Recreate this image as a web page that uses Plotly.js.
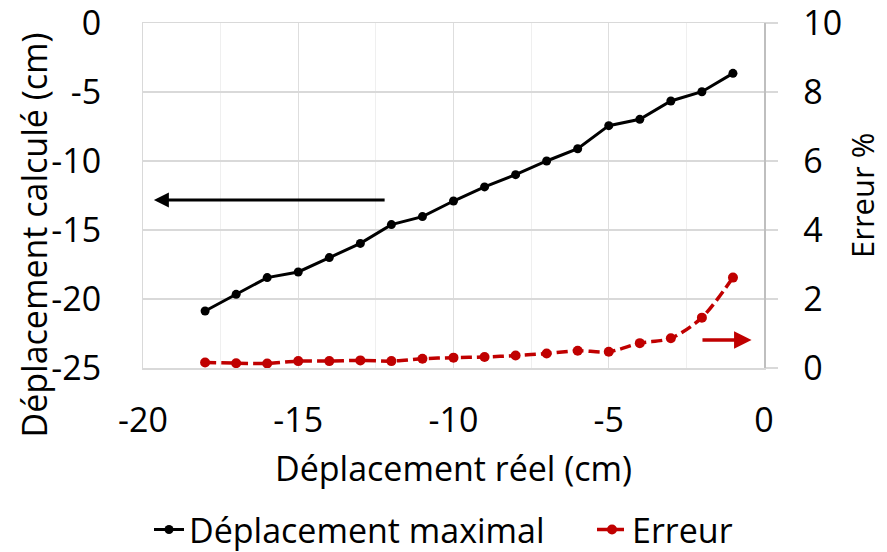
<!DOCTYPE html>
<html>
<head>
<meta charset="utf-8">
<script src="https://cdn.plot.ly/plotly-3.0.1.min.js"></script>
<style>html,body{margin:0;padding:0;background:#fff;}#chart{width:887px;height:552px;}</style>
</head>
<body>
<div id="chart"></div>
<script>
const deplacementReel = [-18,-17,-16,-15,-14,-13,-12,-11,-10,-9,-8,-7,-6,-5,-4,-3,-2,-1];
const deplacementMaximal = [-20.87,-19.66,-18.45,-18.04,-17.0,-15.97,-14.61,-14.03,-12.9,-11.88,-10.99,-10.0,-9.11,-7.44,-6.98,-5.65,-4.98,-3.65];
const erreur = [0.16,0.14,0.13,0.20,0.20,0.22,0.20,0.27,0.30,0.32,0.36,0.42,0.50,0.47,0.72,0.86,1.46,2.62];
const xTicks = [-20,-15,-10,-5,0];
const yTicks = [-25,-20,-15,-10,-5,0];
const y2Ticks = [0,2,4,6,8,10];

const FONT = '"Open Sans", "Noto Sans", sans-serif';
const FS = 34;

const traces = [
  {
    x: deplacementReel, y: deplacementMaximal, name: 'Déplacement maximal',
    type: 'scatter', mode: 'lines+markers', yaxis: 'y', legend: 'legend',
    line: {color: '#000000', width: 3},
    marker: {color: '#000000', size: 9}
  },
  {
    x: deplacementReel, y: erreur, name: 'Erreur',
    type: 'scatter', mode: 'lines+markers', yaxis: 'y2', legend: 'legend2',
    line: {color: '#c00000', width: 3.5, dash: '11px,5px', shape: 'spline', smoothing: 0.8},
    marker: {color: '#c00000', size: 10}
  }
];

const legendBase = {
  orientation: 'h', xref: 'container', yref: 'container',
  xanchor: 'left', y: 0.04, yanchor: 'middle',
  font: {family: FONT, size: FS, color: '#000000'},
  itemwidth: 30, bgcolor: 'rgba(0,0,0,0)'
};

const layout = {
  width: 887, height: 552,
  margin: {l: 143, r: 123, t: 23, b: 184},
  paper_bgcolor: '#ffffff', plot_bgcolor: '#ffffff',
  font: {family: FONT, size: FS, color: '#000000'},
  showlegend: true,
  legend: Object.assign({}, legendBase, {x: 149 / 887}),
  legend2: Object.assign({}, legendBase, {x: 592 / 887}),
  xaxis: {
    range: [-20, 0], tickvals: xTicks, ticktext: xTicks.map(String),
    showgrid: true, gridcolor: '#dedede', gridwidth: 1,
    minor: {dtick: 2.5, tick0: 0, showgrid: true, gridcolor: '#efefef', gridwidth: 1},
    zeroline: false, showline: true, mirror: true, linecolor: '#d9d9d9', linewidth: 1.5,
    ticks: '', ticklabelstandoff: 22, ticklabeloverflow: 'allow',
    tickfont: {family: FONT, size: FS, color: '#000000'}
  },
  yaxis: {
    range: [-25, 0], tickvals: yTicks, ticktext: yTicks.map(String),
    showgrid: true, gridcolor: '#d9d9d9', gridwidth: 1.5,
    zeroline: false, showline: true, linecolor: '#d9d9d9', linewidth: 1,
    ticks: '', ticklabelstandoff: 34, ticklabeloverflow: 'allow',
    tickfont: {family: FONT, size: FS, color: '#000000'}
  },
  yaxis2: {
    range: [0, 10], tickvals: y2Ticks, ticktext: y2Ticks.map(String),
    overlaying: 'y', side: 'right',
    showgrid: false, zeroline: false,
    showline: true, linecolor: '#bfbfbf', linewidth: 1.5,
    ticks: 'outside', ticklen: 12, tickcolor: '#d9d9d9', tickwidth: 1.5,
    ticklabelstandoff: 19, ticklabeloverflow: 'allow',
    tickfont: {family: FONT, size: FS, color: '#000000'}
  },
  annotations: [
    {xref: 'paper', yref: 'paper', x: 0.5, y: -0.29, xanchor: 'center', yanchor: 'middle',
     text: 'Déplacement réel (cm)', showarrow: false, font: {family: FONT, size: FS, color: '#000000'}},
    {xref: 'paper', yref: 'paper', x: -0.175, y: 0.385, xanchor: 'center', yanchor: 'middle',
     text: 'Déplacement calculé (cm)', textangle: -90, showarrow: false, font: {family: FONT, size: FS, color: '#000000'}},
    {xref: 'paper', yref: 'paper', x: 1.157, y: 0.5, xanchor: 'center', yanchor: 'middle',
     text: 'Erreur %', textangle: -90, showarrow: false, font: {family: FONT, size: 31, color: '#000000'}},
    {xref: 'x', yref: 'y', x: -19.65, y: -12.83, axref: 'x', ayref: 'y', ax: -12.17, ay: -12.83,
     text: '', showarrow: true, arrowhead: 2, arrowsize: 1, arrowwidth: 3, arrowcolor: '#000000', standoff: 0},
    {xref: 'x', yref: 'y2', x: -0.4, y: 0.81, axref: 'x', ayref: 'y2', ax: -2.03, ay: 0.81,
     text: '', showarrow: true, arrowhead: 2, arrowsize: 1, arrowwidth: 3.5, arrowcolor: '#c00000', standoff: 0}
  ]
};

Plotly.newPlot('chart', traces, layout, {displayModeBar: false, staticPlot: true});
</script>
</body>
</html>
